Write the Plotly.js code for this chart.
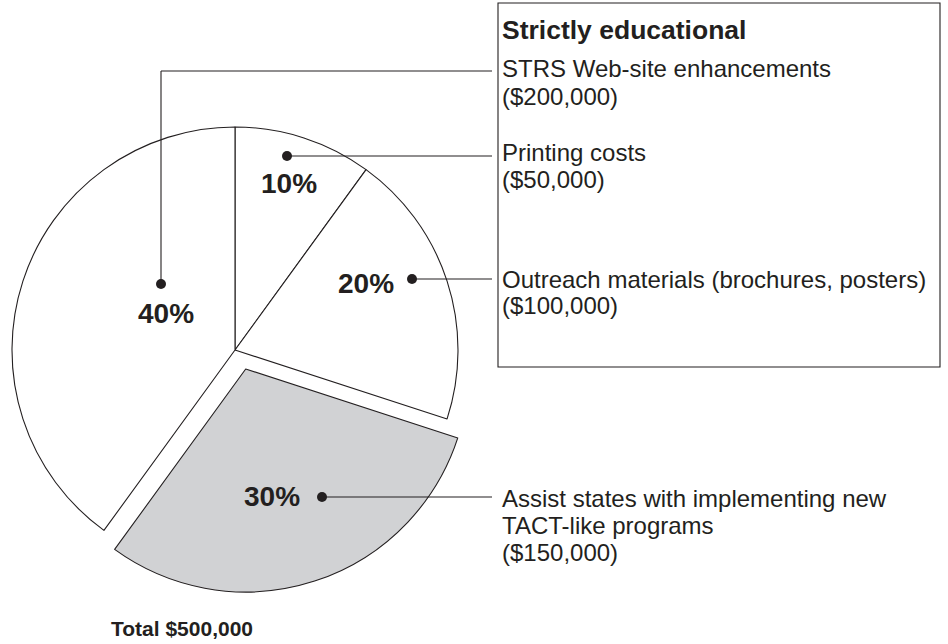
<!DOCTYPE html>
<html>
<head>
<meta charset="utf-8">
<script src="https://cdn.plot.ly/plotly-3.0.1.min.js"></script>
<style>html,body{margin:0;padding:0;background:#fff;}#chart{width:948px;height:644px;}</style>
</head>
<body>
<div id="chart"></div>
<script>
// ---- data ----
const categories = [
  'Printing costs',
  'Outreach materials (brochures, posters)',
  'Assist states with implementing new\nTACT-like programs',
  'STRS Web-site enhancements'
];
const amounts = [50000, 100000, 150000, 200000];
const boxTitle = 'Strictly educational';
const totalLabel = 'Total';

// ---- helpers ----
const W = 948, H = 644;
const px = x => x / W;
const py = y => 1 - y / H;
const INK = '#231f20';
const FONT = 'Liberation Sans, Arial, Helvetica, sans-serif';
const total = amounts.reduce((a, b) => a + b, 0);
const fmt = v => '$' + v.toLocaleString('en-US');
const pct = v => Math.round(v / total * 100) + '%';

// pie geometry (layout only)
const CX = 235, CY = 350, R = 223, OFF = [10.7, 19];
const pulledIndex = 2;

const baseColors = amounts.map((_, i) => i === pulledIndex ? 'rgba(0,0,0,0)' : '#ffffff');
const baseWidths = amounts.map((_, i) => i === pulledIndex ? 0 : 1.1);
const pullColors = amounts.map((_, i) => i === pulledIndex ? '#d1d2d4' : 'rgba(0,0,0,0)');
const pullWidths = amounts.map((_, i) => i === pulledIndex ? 1.1 : 0);

const common = {
  type: 'pie', values: amounts, labels: categories.map(c => c.replace('\n', ' ')),
  sort: false, direction: 'clockwise', rotation: 0,
  textinfo: 'none', hoverinfo: 'skip', showlegend: false
};

const traces = [
  Object.assign({}, common, {
    marker: { colors: baseColors, line: { color: INK, width: baseWidths } },
    domain: { x: [px(CX - R), px(CX + R)], y: [py(CY + R), py(CY - R)] }
  }),
  Object.assign({}, common, {
    marker: { colors: pullColors, line: { color: INK, width: pullWidths } },
    domain: { x: [px(CX - R + OFF[0]), px(CX + R + OFF[0])], y: [py(CY + R + OFF[1]), py(CY - R + OFF[1])] }
  })
];

// label / leader positions (layout)
const dots = [[287, 156], [412, 279], [322, 497], [161, 284]];
const pctPos = [[289, 183], [366, 283], [272, 496], [166, 313]];
const leaderY = [156, 279, 497, 71];
const textTop = [152, 279, 498, 69];
const LINE_END = 492, TEXT_X = 500, LH = 27;

const shapes = [];
const annotations = [];

// box
shapes.push({ type: 'rect', xref: 'paper', yref: 'paper', x0: px(498), x1: px(940), y0: py(367), y1: py(3),
  line: { color: INK, width: 1.1 }, fillcolor: 'rgba(0,0,0,0)' });

amounts.forEach((v, i) => {
  const [dx, dy] = dots[i];
  // leader
  if (dy !== leaderY[i]) {
    shapes.push({ type: 'line', xref: 'paper', yref: 'paper', x0: px(dx), y0: py(dy), x1: px(dx), y1: py(leaderY[i]), line: { color: INK, width: 1.1 } });
  }
  shapes.push({ type: 'line', xref: 'paper', yref: 'paper', x0: px(dx), y0: py(leaderY[i]), x1: px(LINE_END), y1: py(leaderY[i]), line: { color: INK, width: 1.1 } });
  // dot
  shapes.push({ type: 'circle', xref: 'paper', yref: 'paper', x0: px(dx - 5), x1: px(dx + 5), y0: py(dy + 5), y1: py(dy - 5),
    fillcolor: INK, line: { color: INK, width: 0 } });
  // percent label
  annotations.push({ xref: 'paper', yref: 'paper', x: px(pctPos[i][0]), y: py(pctPos[i][1]), xanchor: 'center', yanchor: 'middle',
    text: '<b>' + pct(v) + '</b>', showarrow: false, font: { family: FONT, size: 28, color: INK } });
  // description lines
  const lines = categories[i].split('\n').concat(['(' + fmt(v) + ')']);
  lines.forEach((t, k) => {
    annotations.push({ xref: 'paper', yref: 'paper', x: px(TEXT_X), y: py(textTop[i] + k * LH), xanchor: 'left', yanchor: 'middle',
      text: t, showarrow: false, font: { family: FONT, size: 24, color: INK } });
  });
});

annotations.push({ xref: 'paper', yref: 'paper', x: px(TEXT_X), y: py(30), xanchor: 'left', yanchor: 'middle',
  text: '<b>' + boxTitle + '</b>', showarrow: false, font: { family: FONT, size: 26.5, color: INK } });
annotations.push({ xref: 'paper', yref: 'paper', x: px(109), y: py(628), xanchor: 'left', yanchor: 'middle',
  text: '<b>' + totalLabel + ' ' + fmt(total) + '</b>', showarrow: false, font: { family: FONT, size: 21, color: INK } });

const layout = {
  width: W, height: H, margin: { l: 0, r: 0, t: 0, b: 0 },
  paper_bgcolor: '#ffffff', plot_bgcolor: '#ffffff',
  shapes, annotations
};

Plotly.newPlot('chart', traces, layout, { displayModeBar: false, staticPlot: true });
</script>
</body>
</html>
